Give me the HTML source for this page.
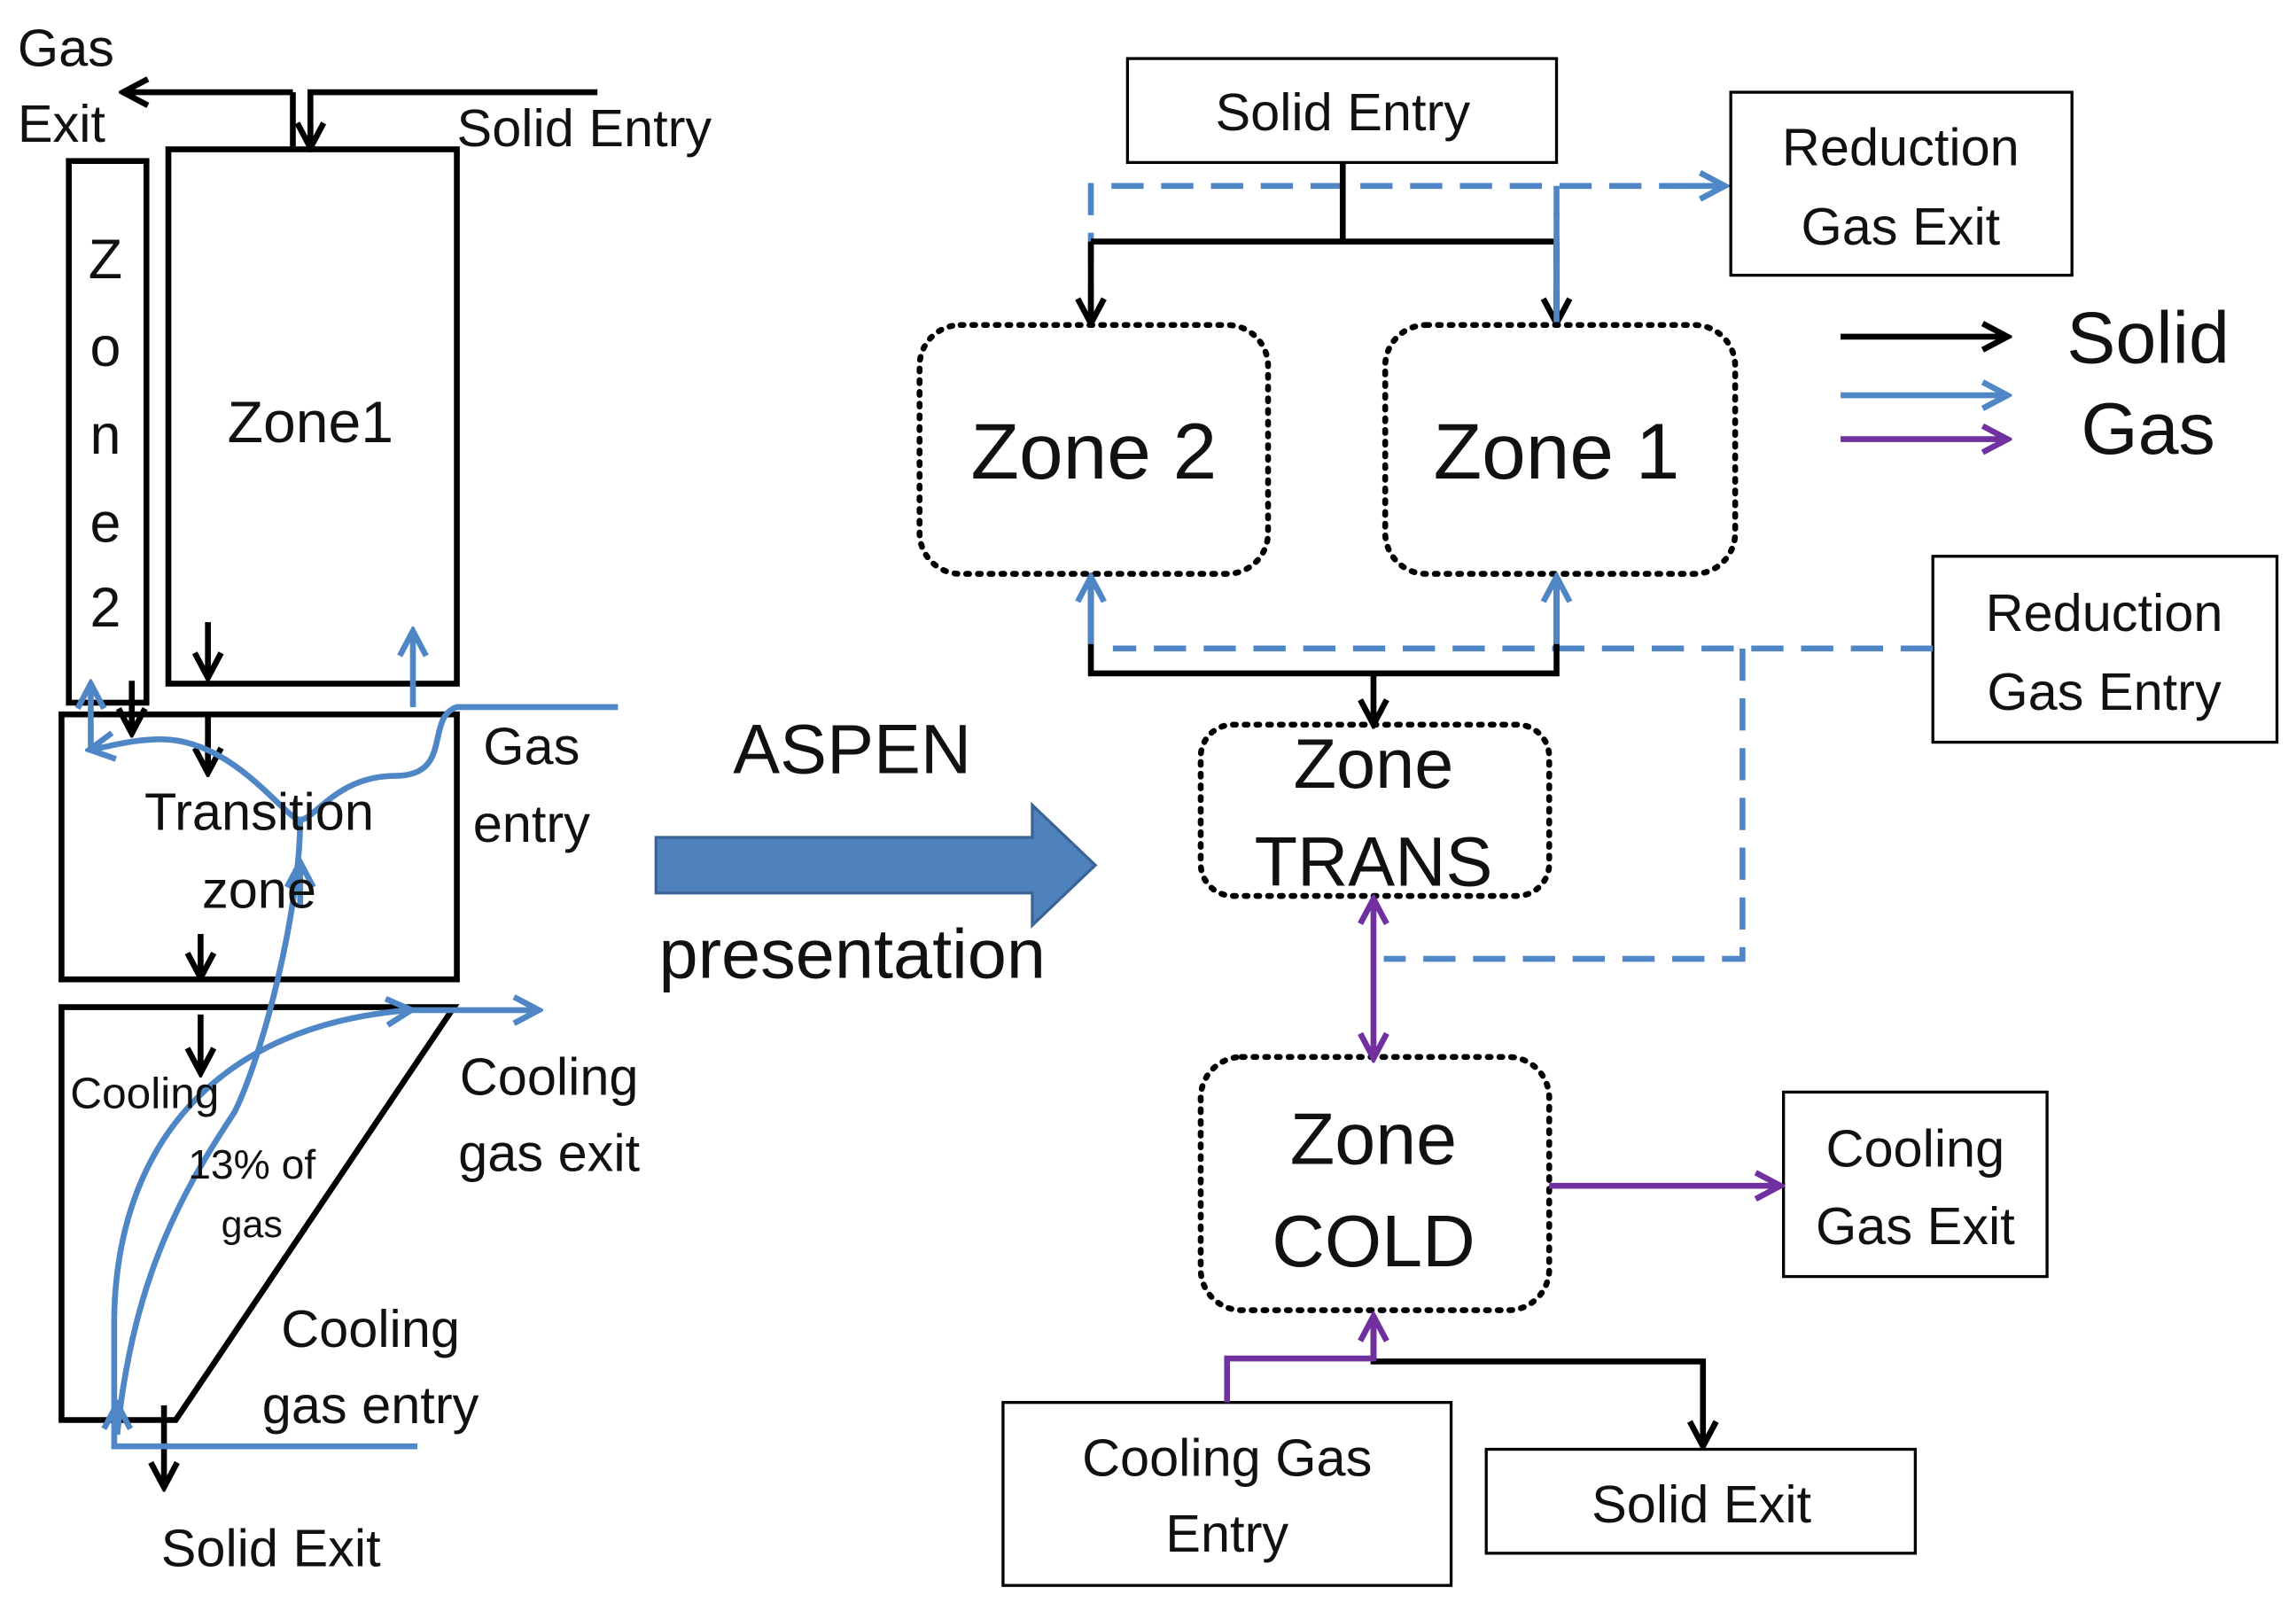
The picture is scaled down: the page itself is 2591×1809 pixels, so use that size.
<!DOCTYPE html>
<html><head><meta charset="utf-8"><style>
html,body{margin:0;padding:0;background:#fff;}
svg{display:block;}
text{font-family:"Liberation Sans",sans-serif;fill:#111;}
</style></head><body>
<svg width="2591" height="1809" viewBox="0 0 1568 1095" preserveAspectRatio="none" xmlns="http://www.w3.org/2000/svg">
<defs>
<marker id="ab" markerWidth="10" markerHeight="10" refX="8" refY="5" orient="auto" markerUnits="userSpaceOnUse" viewBox="0 0 10 10"><path d="M0,0 L9,5 L0,10" fill="none" stroke="#000" stroke-width="2"/></marker>
<marker id="ab2" markerWidth="22" markerHeight="22" refX="18" refY="11" orient="auto" markerUnits="userSpaceOnUse"><path d="M2,2 L19,11 L2,20" fill="none" stroke="#000" stroke-width="4"/></marker>
<marker id="bl" markerWidth="22" markerHeight="22" refX="18" refY="11" orient="auto" markerUnits="userSpaceOnUse"><path d="M2,2 L19,11 L2,20" fill="none" stroke="#4f86c6" stroke-width="4"/></marker>
<marker id="pu" markerWidth="22" markerHeight="22" refX="18" refY="11" orient="auto" markerUnits="userSpaceOnUse"><path d="M2,2 L19,11 L2,20" fill="none" stroke="#7030a0" stroke-width="4"/></marker>
<marker id="pus" markerWidth="22" markerHeight="22" refX="4" refY="11" orient="auto" markerUnits="userSpaceOnUse"><path d="M20,2 L3,11 L20,20" fill="none" stroke="#7030a0" stroke-width="4"/></marker>
</defs>

<!-- LEFT DIAGRAM -->
<g stroke="#000" stroke-width="4" fill="none">
<path d="M200,63 L85,63" marker-end="url(#ab2)"/>
<path d="M200,63 L200,100" />
<path d="M408,63 L212,63 L212,100" marker-end="url(#ab2)"/>
<rect x="47" y="110" width="53" height="370"/>
<rect x="115" y="102" width="197" height="365"/>
<rect x="42" y="488" width="270" height="181"/>
<path d="M42,688 L310,688 L120,970 L42,970 Z"/>
<path d="M142,425 L142,462" marker-end="url(#ab2)"/>
<path d="M90,465 L90,500" marker-end="url(#ab2)"/>
<path d="M142,490 L142,527" marker-end="url(#ab2)"/>
<path d="M137,638 L137,667" marker-end="url(#ab2)"/>
<path d="M137,693 L137,732" marker-end="url(#ab2)"/>
<path d="M112,960 L112,1015" marker-end="url(#ab2)"/>
</g>
<g stroke="#4f86c6" stroke-width="4" fill="none">
<path d="M422,483 L312,483 C290,490 310,530 270,530 C230,530 215,560 205,560 C195,560 160,505 110,505 C90,505 75,510 62,512" marker-end="url(#bl)"/>
<path d="M62,512 L62,468" marker-end="url(#bl)"/>
<path d="M282,483 L282,432" marker-end="url(#bl)"/>
<path d="M205,560 C205,620 180,720 160,760 C120,820 90,880 80,980" />
<path d="M80,980 L80,960" marker-end="url(#bl)"/>
<path d="M285,988 L78,988 L78,900 C80,780 150,700 280,690" marker-end="url(#bl)"/>
<path d="M280,690 L367,690" marker-end="url(#bl)"/>
<path d="M205,620 L205,590" marker-end="url(#bl)"/>
</g>
<g font-size="36">
<text x="12" y="45">Gas</text>
<text x="12" y="97">Exit</text>
<text x="312" y="100">Solid Entry</text>
<g text-anchor="middle" font-size="38">
<text x="72" y="190">Z</text><text x="72" y="250">o</text><text x="72" y="310">n</text><text x="72" y="370">e</text><text x="72" y="428">2</text>
<text x="212" y="302" font-size="40">Zone1</text>
<text x="177" y="567" font-size="36">Transition</text>
<text x="177" y="620" font-size="36">zone</text>
<text x="363" y="522" font-size="36">Gas</text>
<text x="363" y="575" font-size="36">entry</text>
<text x="375" y="748" font-size="36">Cooling</text>
<text x="375" y="800" font-size="36">gas exit</text>
<text x="253" y="920" font-size="36">Cooling</text>
<text x="253" y="972" font-size="36">gas entry</text>
<text x="185" y="1070" font-size="36">Solid Exit</text>
<text x="172" y="805" font-size="28">13% of</text>
<text x="172" y="845" font-size="26">gas</text>
</g>
<text x="48" y="757" font-size="30">Cooling</text>
</g>

<!-- CENTER -->
<text x="582" y="528" font-size="48" text-anchor="middle">ASPEN</text>
<path d="M448,572 L705,572 L705,550 L748,591 L705,632 L705,610 L448,610 Z" fill="#4f81bd" stroke="#3a6497" stroke-width="2"/>
<text x="582" y="668" font-size="48" text-anchor="middle">presentation</text>

<!-- RIGHT DIAGRAM -->
<g stroke="#000" stroke-width="2" fill="#fff">
<rect x="770" y="40" width="293" height="71"/>
<rect x="1182" y="63" width="233" height="125"/>
<rect x="1320" y="380" width="235" height="127"/>
<rect x="1218" y="746" width="180" height="126"/>
<rect x="685" y="958" width="306" height="125"/>
<rect x="1015" y="990" width="293" height="71"/>
</g>
<g stroke="#000" stroke-width="4" fill="none" stroke-dasharray="2,6" stroke-linecap="round">
<rect x="628" y="222" width="238" height="170" rx="28"/>
<rect x="946" y="222" width="239" height="170" rx="28"/>
<rect x="820" y="495" width="238" height="117" rx="22"/>
<rect x="820" y="722" width="238" height="173" rx="28"/>
</g>
<g stroke="#4f86c6" stroke-width="4" fill="none" stroke-dasharray="22,12">
<path d="M745,215 L745,127 L1175,127"/>
<path d="M1063,127 L1063,215"/>
<path d="M1320,443 L760,443"/>
<path d="M1190,443 L1190,655 L945,655"/>
</g>
<path d="M1140,127 L1177,127" stroke="#4f86c6" stroke-width="4" marker-end="url(#bl)"/>
<g stroke="#000" stroke-width="4" fill="none">
<path d="M917,111 L917,165 M745,165 L1063,165"/>
<path d="M745,165 L745,220" marker-end="url(#ab2)"/>
<path d="M1063,165 L1063,220" marker-end="url(#ab2)"/>
<path d="M745,400 L745,460 L1063,460 L1063,400"/>
<path d="M938,460 L938,494" marker-end="url(#ab2)"/>
<path d="M938,900 L938,930 L1163,930 L1163,987" marker-end="url(#ab2)"/>
<path d="M1257,230 L1370,230" marker-end="url(#ab2)"/>
</g>
<g stroke="#4f86c6" stroke-width="4" fill="none">
<path d="M745,440 L745,395" marker-end="url(#bl)"/>
<path d="M1063,440 L1063,395" marker-end="url(#bl)"/>
<path d="M1063,145 L1063,220" stroke-dasharray="0"/>
<path d="M1257,270 L1370,270" marker-end="url(#bl)"/>
</g>
<g stroke="#7030a0" stroke-width="4" fill="none">
<path d="M1257,300 L1370,300" marker-end="url(#pu)"/>
<path d="M938,615 L938,722" marker-start="url(#pus)" marker-end="url(#pu)"/>
<path d="M1058,810 L1215,810" marker-end="url(#pu)"/>
<path d="M838,958 L838,928 L938,928 L938,900" marker-end="url(#pu)"/>
</g>
<g text-anchor="middle">
<text x="917" y="89" font-size="36">Solid Entry</text>
<text x="1298" y="113" font-size="36">Reduction</text>
<text x="1298" y="167" font-size="36">Gas Exit</text>
<text x="1437" y="431" font-size="36">Reduction</text>
<text x="1437" y="485" font-size="36">Gas Entry</text>
<text x="1308" y="797" font-size="36">Cooling</text>
<text x="1308" y="850" font-size="36">Gas Exit</text>
<text x="838" y="1008" font-size="36">Cooling Gas</text>
<text x="838" y="1060" font-size="36">Entry</text>
<text x="1162" y="1040" font-size="36">Solid Exit</text>
<text x="747" y="327" font-size="54">Zone 2</text>
<text x="1063" y="327" font-size="54">Zone 1</text>
<text x="938" y="538" font-size="48">Zone</text>
<text x="938" y="605" font-size="48">TRANS</text>
<text x="938" y="795" font-size="50">Zone</text>
<text x="938" y="865" font-size="50">COLD</text>
<text x="1467" y="248" font-size="50">Solid</text>
<text x="1467" y="310" font-size="50">Gas</text>
</g>
</svg>
</body></html>
